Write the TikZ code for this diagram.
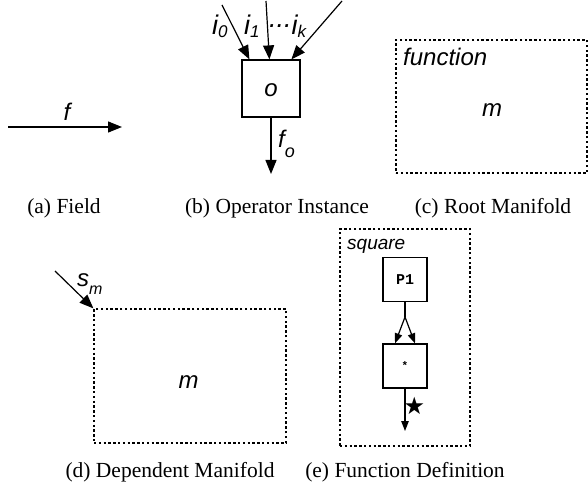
\documentclass[tikz,border=0pt]{standalone}
\usepackage{fontspec}
\setmainfont{Liberation Serif}
\newfontfamily\arialf{Liberation Sans}
\newfontfamily\courf{Liberation Mono}
\newfontfamily\dejavuf{DejaVu Sans}
\usetikzlibrary{arrows.meta,calc}
\newcommand{\sbs}[3]{\raisebox{-#1}{\fontsize{#2}{#2}\selectfont #3}}
\begin{document}
\begin{tikzpicture}[x=1pt,y=-1pt,
  lbl/.style={font=\arialf\itshape\fontsize{24}{24}\selectfont, inner sep=0pt},
  ilbl/.style={font=\arialf\itshape\fontsize{27}{27}\selectfont, inner sep=0pt, anchor=base west},
  slbl/.style={font=\arialf\itshape\fontsize{19}{19}\selectfont, inner sep=0pt},
  captxt/.style={font=\fontsize{21.5}{24}\selectfont, inner sep=0pt},
  arr/.style={line width=1.2pt, -{Triangle[length=14pt,width=11pt]}},
  sarr/.style={line width=1.2pt, -{Triangle[length=10pt,width=7.5pt]}},
  opbox/.style={draw, line width=1.2pt, minimum width=58pt, minimum height=57pt, inner sep=0pt},
  smallbox/.style={draw, line width=1.2pt, minimum width=44pt, minimum height=44pt, inner sep=0pt},
  manif/.style={draw, line width=1.2pt, dash pattern=on 2.4pt off 2.4pt, inner sep=0pt}]
\useasboundingbox (0,0) rectangle (588,489);

% (a) Field
\coordinate (fa) at (8,127);
\coordinate (fb) at (122,127);
\draw[arr] (fa) -- (fb);
\node[lbl, anchor=base] (flbl) at (67,121) {f};
\node[captxt] (capa) at (64,208) {(a) Field};

% (b) Operator instance
\node[opbox] (op) at (271,88.5) {};
\node[lbl, anchor=base] (olbl) at (271,97) {o};
\coordinate (i0s) at (222,5);
\coordinate (i1s) at (266,1);
\coordinate (iks) at (342,1);
\draw[arr] (i0s) -- ($(op.north west)+(8,0)$);
\draw[arr] (i1s) -- ($(op.north west)+(28,0)$);
\draw[arr] (iks) -- ($(op.north west)+(50,0)$);
\coordinate (fo) at (271,174);
\draw[arr] (op.south) -- (fo);
\node[ilbl] (i0lbl) at (212,35) {i\sbs{3pt}{17}{0}};
\node[ilbl] (i1lbl) at (244,35) {i\sbs{3pt}{17}{1}};
\node[ilbl] (iklbl) at (269,35) {\raisebox{7pt}{...}i\sbs{3pt}{17}{k}};
\node[lbl, anchor=base west] (folbl) at (278,147) {f\sbs{10pt}{18}{o}};
\node[captxt] (capb) at (277,208) {(b) Operator Instance};

% (c) Root manifold
\node[manif, minimum width=191pt, minimum height=133pt] (rm) at (491.5,106.5) {};
\node[lbl, anchor=base west] (fun) at (403,66) {function};
\node[lbl, anchor=base] (rmm) at (492,117) {m};
\node[captxt] (capc) at (493,208) {(c) Root Manifold};

% (d) Dependent manifold
\node[manif, minimum width=192pt, minimum height=134pt] (dm) at (190,376) {};
\coordinate (sms) at (55,271);
\draw[arr] (sms) -- (dm.north west);
\node[lbl, anchor=base west] (smlbl) at (77,286) {s\sbs{8pt}{16}{m}};
\node[lbl, anchor=base] (dmm) at (188.5,388) {m};
\node[captxt] (capd) at (170,472) {(d) Dependent Manifold};

% (e) Function definition
\node[manif, minimum width=130pt, minimum height=217pt] (fd) at (405,337.5) {};
\node[slbl, anchor=base west] (sq) at (347,249) {square};
\node[smallbox, font=\courf\bfseries\fontsize{15}{15}\selectfont] (p1) at (405,279.5) {P1};
\node[smallbox, font=\courf\bfseries\fontsize{11}{11}\selectfont] (mul) at (405,366) {*};
\coordinate (split) at (405,317);
\draw[line width=1.2pt] (p1.south) -- (split);
\draw[sarr] (split) -- ($(mul.north)+(-10,0)$);
\draw[sarr] (split) -- ($(mul.north)+(10,0)$);
\coordinate (outp) at (405,431);
\draw[sarr] (mul.south) -- (outp);
\node[font=\dejavuf\fontsize{24}{24}\selectfont, inner sep=0pt] (star) at (414.5,406) {★};
\node[captxt] (cape) at (405,472) {(e) Function Definition};
\end{tikzpicture}
\end{document}
